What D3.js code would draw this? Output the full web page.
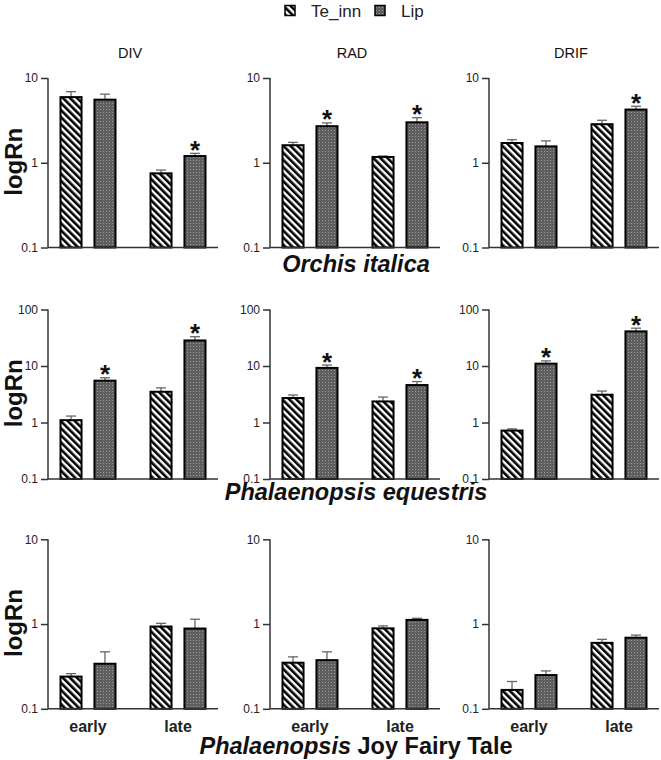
<!DOCTYPE html>
<html>
<head>
<meta charset="utf-8">
<script src="https://cdn.jsdelivr.net/npm/d3@7"></script>
<style>
  html, body { margin: 0; padding: 0; background: #fff; }
  svg { display: block; font-family: "Liberation Sans", Arial, sans-serif; }
</style>
</head>
<body>
<svg id="chart" width="661" height="760"></svg>
<script>
// ---------- DATA ----------
const groups = ["early", "late"];
const series = ["Te_inn", "Lip"];
const metrics = ["DIV", "RAD", "DRIF"];
const species = ["Orchis italica", "Phalaenopsis equestris", "Phalaenopsis Joy Fairy Tale"];
const rowMax = [10, 100, 10];
const rowTicks = [[0.1, 1, 10], [0.1, 1, 10, 100], [0.1, 1, 10]];

// Orchis italica
const oiTeMean  = [[5.95, 0.75], [1.61, 1.17], [1.71, 2.85]];
const oiTeErr   = [[0.95, 0.07], [0.13, 0.03], [0.16, 0.32]];
const oiLipMean = [[5.55, 1.20], [2.70, 3.00], [1.56, 4.24]];
const oiLipErr  = [[0.90, 0.09], [0.25, 0.40], [0.25, 0.40]];
const oiStar    = [[false, true], [true, true], [false, true]];

// Phalaenopsis equestris
const peTeMean  = [[1.10, 3.50], [2.71, 2.36], [0.72, 3.10]];
const peTeErr   = [[0.20, 0.60], [0.35, 0.46], [0.05, 0.50]];
const peLipMean = [[5.50, 28.3], [9.25, 4.60], [11.0, 41.0]];
const peLipErr  = [[0.70, 4.7], [1.15, 0.70], [1.3, 5.7]];
const peStar    = [[true, true], [true, true], [true, true]];

// Phalaenopsis Joy Fairy Tale
const pjTeMean  = [[0.24, 0.935], [0.35, 0.89], [0.167, 0.60]];
const pjTeErr   = [[0.02, 0.085], [0.06, 0.06], [0.043, 0.06]];
const pjLipMean = [[0.34, 0.885], [0.375, 1.12], [0.25, 0.69]];
const pjLipErr  = [[0.13, 0.255], [0.095, 0.05], [0.03, 0.05]];
const pjStar    = [[false, false], [false, false], [false, false]];

const teMean = [oiTeMean, peTeMean, pjTeMean];
const teErr = [oiTeErr, peTeErr, pjTeErr];
const lipMean = [oiLipMean, peLipMean, pjLipMean];
const lipErr = [oiLipErr, peLipErr, pjLipErr];
const stars = [oiStar, peStar, pjStar];

// ---------- LAYOUT ----------
const svg = d3.select("#chart");
const colX = [48, 270, 489];
const rowTop = [78, 309.5, 539.3];
const plotW = 170, plotH = 169.5;

const defs = svg.append("defs");
const hatch = defs.append("pattern")
  .attr("id", "hatch").attr("patternUnits", "userSpaceOnUse")
  .attr("width", 5).attr("height", 5)
  .attr("patternTransform", "rotate(-45)");
hatch.append("rect").attr("width", 5).attr("height", 5).attr("fill", "#fff");
hatch.append("rect").attr("x", 0).attr("y", 0).attr("width", 2.6).attr("height", 5).attr("fill", "#000");

const dots = defs.append("pattern")
  .attr("id", "dots").attr("patternUnits", "userSpaceOnUse")
  .attr("width", 3).attr("height", 3);
dots.append("rect").attr("width", 3).attr("height", 3).attr("fill", "#5e5e5e");
dots.append("rect").attr("x", 1).attr("y", 1).attr("width", 1).attr("height", 1).attr("fill", "#9c9c9c");

const fills = { "Te_inn": "url(#hatch)", "Lip": "url(#dots)" };

// Legend
const legend = svg.append("g");
const legItems = [{ s: "Te_inn", x: 285 }, { s: "Lip", x: 375 }];
legItems.forEach(it => {
  legend.append("rect").attr("x", it.x).attr("y", 5.5).attr("width", 10).attr("height", 10)
    .attr("fill", fills[it.s]).attr("stroke", "#000").attr("stroke-width", 1.5);
  legend.append("text").attr("x", it.x + 26).attr("y", 16.5)
    .attr("font-size", 17).attr("fill", "#222").text(it.s);
});

const xOuter = d3.scalePoint().domain(groups).range([40, 130]);
const xInner = d3.scaleBand().domain(series).range([-27.5, 27.5]).paddingInner(0.38);

for (let r = 0; r < 3; r++) {
  const y = d3.scaleLog().domain([0.1, rowMax[r]]).range([rowTop[r] + plotH, rowTop[r]]);
  for (let c = 0; c < 3; c++) {
    const g = svg.append("g").attr("transform", `translate(${colX[c]},0)`);

    const data = [];
    groups.forEach((grp, gi) => {
      data.push({ grp, s: "Te_inn", v: teMean[r][c][gi], e: teErr[r][c][gi], star: false });
      data.push({ grp, s: "Lip", v: lipMean[r][c][gi], e: lipErr[r][c][gi], star: stars[r][c][gi] });
    });
    const cx = d => xOuter(d.grp) + xInner(d.s);
    // error bars (upper only)
    data.forEach(d => {
      const xm = cx(d) + xInner.bandwidth() / 2;
      const yt = y(d.v + d.e);
      g.append("line").attr("x1", xm).attr("x2", xm).attr("y1", y(d.v)).attr("y2", yt)
        .attr("stroke", "#666").attr("stroke-width", 1.3);
      g.append("line").attr("x1", xm - 5).attr("x2", xm + 5).attr("y1", yt).attr("y2", yt)
        .attr("stroke", "#666").attr("stroke-width", 1.3);
      if (d.star) {
        g.append("text").attr("x", xm).attr("y", yt + 5.5)
          .attr("text-anchor", "middle").attr("font-size", 26).attr("font-weight", "bold")
          .attr("fill", "#111").text("*");
      }
    });
    g.selectAll("rect.bar").data(data).enter().append("rect").attr("class", "bar")
      .attr("x", d => cx(d)).attr("width", xInner.bandwidth())
      .attr("y", d => y(d.v)).attr("height", d => y(0.1) - y(d.v))
      .attr("fill", d => fills[d.s]).attr("stroke", "#000").attr("stroke-width", 2);

    // y axis
    const yAxis = d3.axisLeft(y).tickValues(rowTicks[r]).tickSize(7).tickPadding(3)
      .tickFormat(d3.format("~g"));
    const ya = g.append("g").call(yAxis);
    ya.select(".domain").attr("d", `M0,${rowTop[r]}V${rowTop[r] + plotH}`)
      .attr("stroke", "#333").attr("stroke-width", 1.5);
    ya.selectAll(".tick line").attr("stroke", "#333").attr("stroke-width", 1.5);
    ya.selectAll(".tick text").attr("font-size", 12).attr("fill", "#222")
      .attr("font-family", "'Liberation Sans', Arial, sans-serif");

    // x axis line
    g.append("line").attr("x1", 0).attr("x2", plotW)
      .attr("y1", rowTop[r] + plotH).attr("y2", rowTop[r] + plotH)
      .attr("stroke", "#333").attr("stroke-width", 1.5);

    if (r === 0) {
      g.append("text").attr("x", 82).attr("y", 58).attr("text-anchor", "middle")
        .attr("font-size", 14.5).attr("fill", "#111").text(metrics[c]);
    }
    if (r === 2) {
      groups.forEach(grp => {
        g.append("text").attr("x", xOuter(grp)).attr("y", 732).attr("text-anchor", "middle")
          .attr("font-size", 16).attr("font-weight", "bold").attr("fill", "#222").text(grp);
      });
    }
    if (c === 0) {
      svg.append("text")
        .attr("transform", `translate(21.5,${rowTop[r] + plotH / 2 - 1}) rotate(-90)`)
        .attr("text-anchor", "middle").attr("font-size", 24).attr("font-weight", "bold")
        .attr("fill", "#111").text("logRn");
    }
  }
}

// species titles
const spY = [272, 500, 754];
const spX = 356;
svg.append("text").attr("x", spX).attr("y", spY[0]).attr("text-anchor", "middle")
  .attr("font-size", 23.5).attr("font-weight", "bold").attr("font-style", "italic").attr("fill", "#111")
  .text(species[0]);
svg.append("text").attr("x", spX).attr("y", spY[1]).attr("text-anchor", "middle")
  .attr("font-size", 23.5).attr("font-weight", "bold").attr("font-style", "italic").attr("fill", "#111")
  .text(species[1]);
const t2 = svg.append("text").attr("x", spX).attr("y", spY[2]).attr("text-anchor", "middle")
  .attr("font-size", 23.5).attr("font-weight", "bold").attr("fill", "#111");
const parts = species[2].split(" ");
t2.append("tspan").attr("font-style", "italic").text(parts[0]);
t2.append("tspan").text(" " + parts.slice(1).join(" "));
</script>
</body>
</html>
